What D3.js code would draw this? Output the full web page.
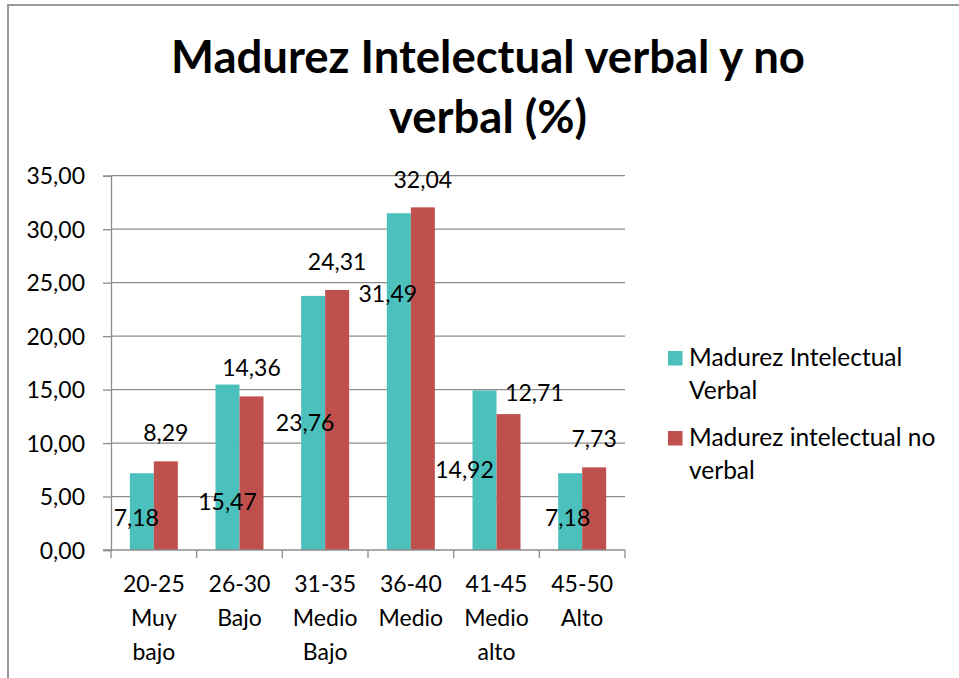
<!DOCTYPE html>
<html>
<head>
<meta charset="utf-8">
<script src="https://cdn.jsdelivr.net/npm/d3@7"></script>
<style>
  html, body { margin: 0; padding: 0; background: #fff; }
  svg { display: block; }
  text { font-family: Lato, "Open Sans", sans-serif; fill: #000; }
</style>
</head>
<body>
<svg id="chart" width="959" height="678"></svg>
<script>
// ---- Data ----
const titleLines = ["Madurez Intelectual verbal y no", "verbal (%)"];
const categories = ["20-25 Muy bajo", "26-30 Bajo", "31-35 Medio Bajo", "36-40 Medio", "41-45 Medio alto", "45-50 Alto"];
const categoryLines = [["20-25", "Muy", "bajo"], ["26-30", "Bajo"], ["31-35", "Medio", "Bajo"], ["36-40", "Medio"], ["41-45", "Medio", "alto"], ["45-50", "Alto"]];
const seriesNames = ["Madurez Intelectual Verbal", "Madurez intelectual no verbal"];
const legendLines = [["Madurez Intelectual", "Verbal"], ["Madurez intelectual no", "verbal"]];
const verbal = [7.18, 15.47, 23.76, 31.49, 14.92, 7.18];
const noVerbal = [8.29, 14.36, 24.31, 32.04, 12.71, 7.73];
const yTicks = [0, 5, 10, 15, 20, 25, 30, 35];

// ---- Layout / style ----
const W = 959, H = 678;
const plot = { left: 111, right: 625, top: 175.7, bottom: 550 };
const colors = ["#4BC0BD", "#C0504D"];
const gridColor = "#8C8C8C";
const labelSize = 23;
// manual label nudges (dx, baseline dy relative to bar top) as in the original
const verbalLabelNudge = [[-5.5, 53], [0, 125.5], [-8, 135], [-11, 89], [-20, 88], [-2.5, 53]];
const noVerbalLabelNudge = [[0, -20], [0, -20], [0, -20], [0, -19], [26, -13], [0, -20]];

const locale = d3.formatLocale({ decimal: ",", thousands: ".", grouping: [3], currency: ["", "€"] });
const fmt = locale.format(".2f");

const svg = d3.select("#chart");
svg.append("rect").attr("width", W).attr("height", H).attr("fill", "#fff");

// outer border
svg.append("rect")
  .attr("x", 8).attr("y", 5)
  .attr("width", W + 20).attr("height", H + 20)
  .attr("fill", "none").attr("stroke", "#999").attr("stroke-width", 2);

// title
svg.append("g").selectAll("text").data(titleLines).join("text")
  .attr("x", 488).attr("y", (d, i) => 73 + i * 60)
  .attr("text-anchor", "middle")
  .style("font-weight", "bold").style("font-size", "45.5px")
  .text(d => d);

// scales
const x = d3.scaleBand().domain(categories).range([plot.left, plot.right]).paddingInner(0).paddingOuter(0);
const xs = d3.scaleBand().domain(seriesNames).range([0, x.bandwidth()]).paddingInner(0).paddingOuter(0.785);
const y = d3.scaleLinear().domain([0, 35]).range([plot.bottom, plot.top]);

// gridlines
svg.append("g").selectAll("line").data(yTicks.filter(t => t > 0)).join("line")
  .attr("x1", plot.left).attr("x2", plot.right)
  .attr("y1", d => y(d)).attr("y2", d => y(d))
  .attr("stroke", gridColor).attr("stroke-width", 1.3);

// y axis
const yAxis = svg.append("g").attr("transform", `translate(${plot.left},0)`)
  .call(d3.axisLeft(y).tickValues(yTicks).tickFormat(fmt).tickSize(8).tickPadding(18));
yAxis.select(".domain").attr("stroke", gridColor).attr("stroke-width", 1.3);
yAxis.selectAll(".tick line").attr("stroke", gridColor).attr("stroke-width", 1.3);
yAxis.selectAll(".tick text").style("font-size", labelSize + "px").style("font-family", "Lato, sans-serif").attr("fill", "#000").attr("dy", "0.36em");

// bars
const rows = categories.map((c, i) => ({ cat: c, vals: [verbal[i], noVerbal[i]], i }));
const groups = svg.append("g").selectAll("g").data(rows).join("g")
  .attr("transform", d => `translate(${x(d.cat)},0)`);
groups.selectAll("rect").data(d => d.vals.map((v, k) => ({ v, k, name: seriesNames[k] }))).join("rect")
  .attr("x", d => xs(d.name))
  .attr("y", d => y(d.v))
  .attr("width", xs.bandwidth())
  .attr("height", d => y(0) - y(d.v))
  .attr("fill", d => colors[d.k]);

// x axis line and ticks
svg.append("line")
  .attr("x1", plot.left - 8).attr("x2", plot.right)
  .attr("y1", plot.bottom).attr("y2", plot.bottom)
  .attr("stroke", gridColor).attr("stroke-width", 1.3);
const tickXs = categories.map(c => x(c)).concat([x.range()[1]]);
svg.append("g").selectAll("line").data(tickXs).join("line")
  .attr("x1", d => d).attr("x2", d => d)
  .attr("y1", plot.bottom).attr("y2", plot.bottom + 8)
  .attr("stroke", gridColor).attr("stroke-width", 1.3);

// category labels
const catG = svg.append("g").selectAll("text").data(categories).join("text")
  .attr("x", d => x(d) + x.bandwidth() / 2)
  .attr("text-anchor", "middle")
  .style("font-size", labelSize + "px");
catG.each(function (d, i) {
  d3.select(this).selectAll("tspan").data(categoryLines[i]).join("tspan")
    .attr("x", x(d) + x.bandwidth() / 2)
    .attr("y", (t, j) => 592 + j * 34)
    .text(t => t);
});

// data labels
const lbl = svg.append("g").style("font-size", labelSize + "px").attr("text-anchor", "middle");
lbl.selectAll("text.v").data(verbal).join("text").attr("class", "v")
  .attr("x", (d, i) => x(categories[i]) + xs(seriesNames[0]) + xs.bandwidth() / 2 + verbalLabelNudge[i][0])
  .attr("y", (d, i) => y(d) + verbalLabelNudge[i][1])
  .text(d => fmt(d));
lbl.selectAll("text.n").data(noVerbal).join("text").attr("class", "n")
  .attr("x", (d, i) => x(categories[i]) + xs(seriesNames[1]) + xs.bandwidth() / 2 + noVerbalLabelNudge[i][0])
  .attr("y", (d, i) => y(d) + noVerbalLabelNudge[i][1])
  .text(d => fmt(d));

// legend
const legY = [351, 431];
const leg = svg.append("g").selectAll("g").data(seriesNames).join("g");
leg.append("rect")
  .attr("x", 668).attr("y", (d, i) => legY[i])
  .attr("width", 14.5).attr("height", 14.5)
  .attr("fill", (d, i) => colors[i]);
leg.append("text")
  .style("font-size", "24.5px")
  .each(function (d, i) {
    d3.select(this).selectAll("tspan").data(legendLines[i]).join("tspan")
      .attr("x", 689).attr("y", (t, j) => legY[i] + 15 + j * 32.5)
      .text(t => t);
  });
</script>
</body>
</html>
